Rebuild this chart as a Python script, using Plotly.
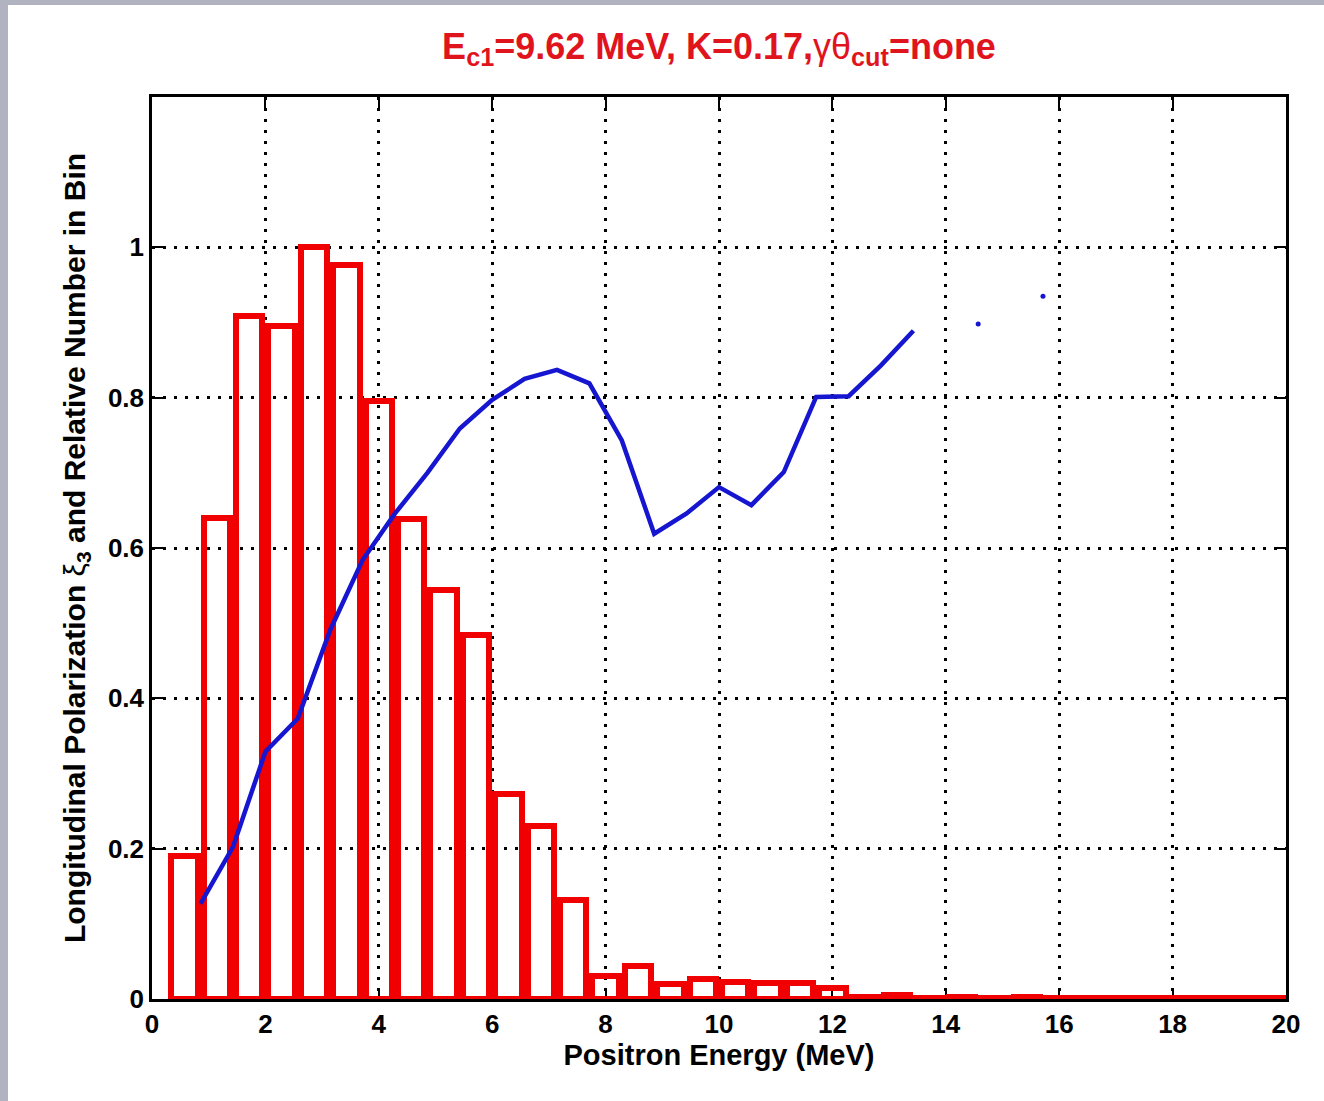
import plotly.graph_objects as go

# Histogram of positron energies (relative number per bin)
bin_energy = [0.571, 1.143, 1.714, 2.286, 2.857, 3.429, 4.0, 4.571, 5.143, 5.714,
              6.286, 6.857, 7.429, 8.0, 8.571, 9.143, 9.714, 10.286, 10.857, 11.429,
              12.0, 12.571, 13.143, 13.714, 14.286, 14.857, 15.429, 16.0, 16.571, 17.143,
              17.714, 18.286, 18.857, 19.429, 20.0]
relative_number = [0.19, 0.64, 0.908, 0.895, 1.0, 0.976, 0.796, 0.638, 0.544, 0.484,
                   0.273, 0.23, 0.132, 0.031, 0.044, 0.020, 0.027, 0.023, 0.021, 0.021,
                   0.014, 0.003, 0.005, 0.001, 0.003, 0.001, 0.003, 0.001, 0.001, 0.001,
                   0.001, 0.001, 0.001, 0.001, 0.001]

# Longitudinal polarization xi_3 versus positron energy (None = empty bin)
pol_energy = [0.857, 1.429, 2.0, 2.571, 3.143, 3.714, 4.286, 4.857, 5.429, 6.0,
              6.571, 7.143, 7.714, 8.286, 8.857, 9.429, 10.0, 10.571, 11.143, 11.714,
              12.286, 12.857, 13.429, 14.0, 14.571, 15.143, 15.714]
polarization = [0.127, 0.2025, 0.329, 0.373, 0.491, 0.584, 0.646, 0.700, 0.759, 0.797,
                0.825, 0.837, 0.819, 0.743, 0.619, 0.646, 0.681, 0.657, 0.701, 0.801,
                0.802, 0.843, 0.889, None, 0.898, None, 0.935]

x_ticks = [0, 2, 4, 6, 8, 10, 12, 14, 16, 18, 20]
y_ticks = [0, 0.2, 0.4, 0.6, 0.8, 1.0]
y_tick_text = ["0", "0.2", "0.4", "0.6", "0.8", "1"]

W, H = 1324, 1101
ML, MR, MT, MB = 152, 38, 97, 102
FONT = "Liberation Sans, Arial, Helvetica, sans-serif"
RED = "#f00000"
BLUE = "#1616d0"
FRAME = "#b1b3c1"

fig = go.Figure()

fig.add_trace(go.Bar(
    x=bin_energy, y=relative_number, width=0.465,
    marker=dict(color="rgba(0,0,0,0)", line=dict(color=RED, width=6)),
    showlegend=False, hoverinfo="x+y",
))

fig.add_trace(go.Scatter(
    x=pol_energy, y=polarization, mode="lines",
    line=dict(color=BLUE, width=4.5), connectgaps=False,
    showlegend=False,
))

# points with no neighbours are drawn as dots (a line needs two points)
iso_x, iso_y = [], []
for i, v in enumerate(polarization):
    if v is None:
        continue
    prev_ok = i > 0 and polarization[i - 1] is not None
    next_ok = i < len(polarization) - 1 and polarization[i + 1] is not None
    if not prev_ok and not next_ok:
        iso_x.append(pol_energy[i])
        iso_y.append(v)
fig.add_trace(go.Scatter(
    x=iso_x, y=iso_y, mode="markers",
    marker=dict(color=BLUE, size=5), showlegend=False,
))

pw, ph = W - ML - MR, H - MT - MB
# grey frame strips along the left and top edges of the page
fig.add_shape(type="rect", xref="paper", yref="paper",
              x0=-ML / pw, x1=(8 - ML) / pw, y0=-MB / ph, y1=(H - MB) / ph,
              fillcolor=FRAME, line=dict(width=0), layer="above")
fig.add_shape(type="rect", xref="paper", yref="paper",
              x0=-ML / pw, x1=(W - ML) / pw, y0=(H - MB - 5) / ph, y1=(H - MB) / ph,
              fillcolor=FRAME, line=dict(width=0), layer="above")

axis_common = dict(
    showline=True, linecolor="black", linewidth=2.5, mirror="ticks",
    ticks="inside", ticklen=11, tickwidth=2, tickcolor="black",
    showgrid=True, gridcolor="black", gridwidth=2.5, griddash="3px,8px",
    zeroline=False, layer="below traces",
    tickfont=dict(family=FONT, size=26, color="black", weight="bold"),
)

fig.update_xaxes(
    range=[0, 20], tickvals=x_ticks, **axis_common,
    title=dict(text="Positron Energy (MeV)", standoff=0,
               font=dict(family=FONT, size=29, color="black", weight="bold")),
)
fig.update_yaxes(
    range=[0, 1.2], tickvals=y_ticks, ticktext=y_tick_text, **axis_common,
    title=dict(text="Longitudinal Polarization <span style=\"font-weight:normal\">ξ</span><sub>3</sub> and Relative Number in Bin",
               standoff=14,
               font=dict(family=FONT, size=30, color="black", weight="bold")),
)

fig.update_layout(
    width=W, height=H,
    margin=dict(l=ML, r=MR, t=MT, b=MB, autoexpand=False),
    paper_bgcolor="white", plot_bgcolor="white",
    bargap=0,
    title=dict(
        text="E<sub>c1</sub>=9.62 MeV, K=0.17,<span style=\"font-weight:normal\">γθ</span><sub>cut</sub>=none",
        x=0.5, xref="paper", xanchor="center",
        y=1 - 46 / H, yref="container", yanchor="middle",
        font=dict(family=FONT, size=36, color="#e0141c", weight="bold"),
    ),
)

fig.write_html("out.html")
